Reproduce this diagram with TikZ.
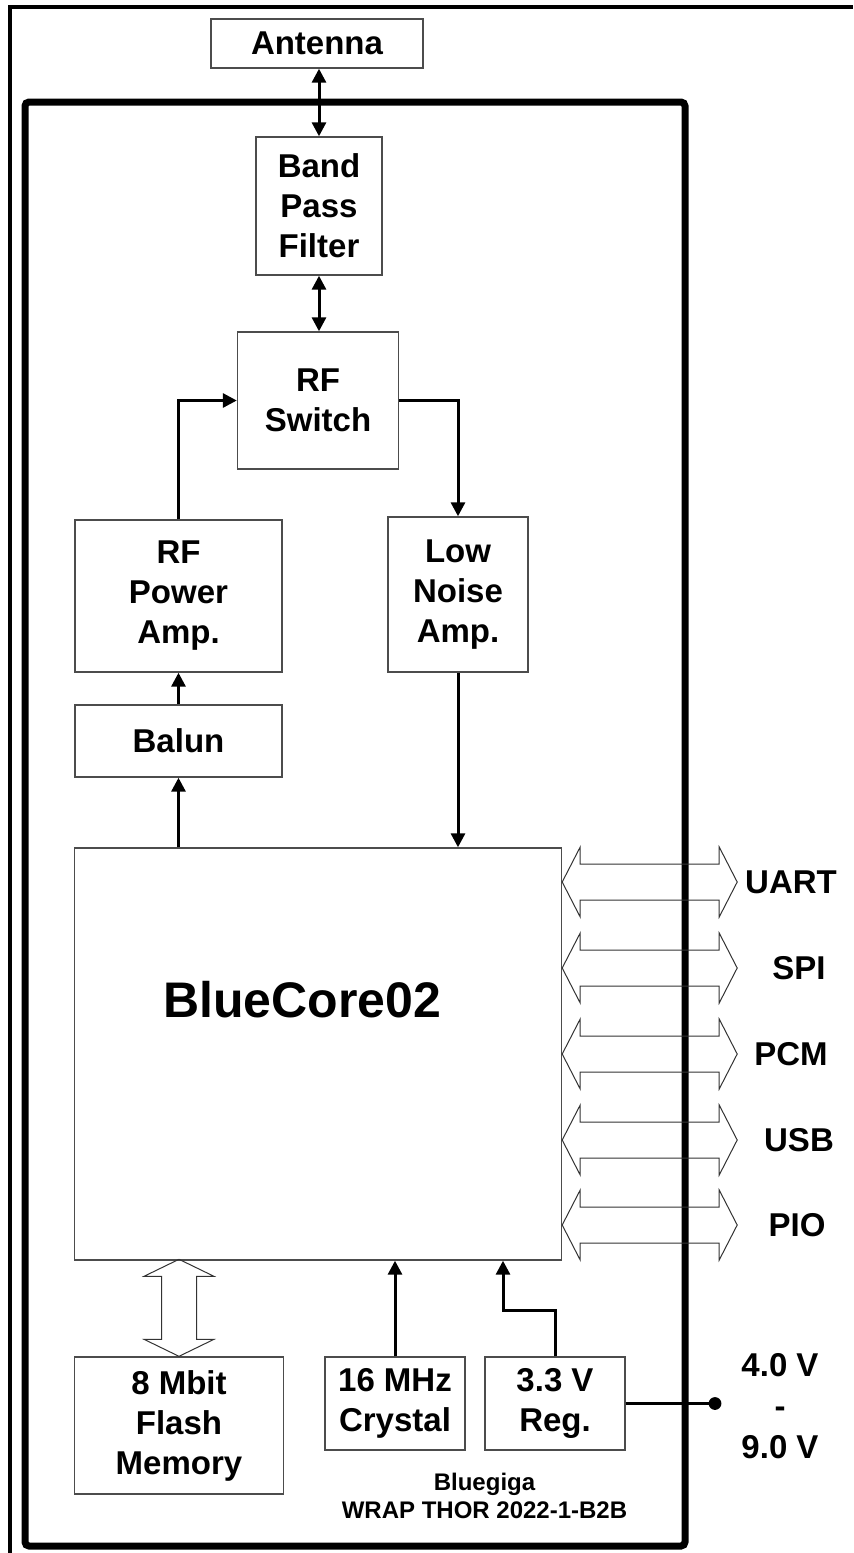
\documentclass[tikz,border=0pt]{standalone}
\usepackage{fontspec}
\setsansfont{Liberation Sans}
\usetikzlibrary{arrows.meta,calc,positioning}

\begin{document}
\begin{tikzpicture}[x=0.5pt, y=-0.5pt,
    every node/.append style={font=\sffamily\bfseries\fontsize{16.5}{20}\selectfont, align=center},
    block/.style={draw=black!70, line width=0.7pt, inner sep=0pt},
    wire/.style={line width=1.5pt},
    arr/.style={wire, -{Triangle[length=7pt,width=7pt]}},
    darr/.style={wire, {Triangle[length=7pt,width=7pt]}-{Triangle[length=7pt,width=7pt]}},
    bus/.style={draw=black!80, line width=0.5pt, line join=miter}]
    \useasboundingbox (0,0) rectangle (853,1553);

    % frames
    \draw[line width=2pt] (10,1553) -- (10,7) -- (853,7);
    \draw[line width=3.5pt, rounded corners=2pt] (25,102) rectangle (685,1546);

    % blocks
    \node[block, minimum width=106pt, minimum height=24.5pt] (ant) at (317,43.5) {Antenna};
    \node[block, minimum width=63pt, minimum height=69pt] (bpf) at (319,206) {Band\\Pass\\Filter};
    \node[block, minimum width=80.5pt, minimum height=68.5pt] (rfsw) at (318,400.5) {RF\\Switch};
    \node[block, minimum width=103.5pt, minimum height=76pt] (pa) at (178.5,596) {RF\\Power\\Amp.};
    \node[block, minimum width=70pt, minimum height=77.5pt] (lna) at (458,594.5) {Low\\Noise\\Amp.};
    \node[block, minimum width=103.5pt, minimum height=36pt] (balun) at (178.5,741) {Balun};
    \node[block, minimum width=243.5pt, minimum height=206pt] (bc) at (318,1054) {};
    \node[font=\sffamily\bfseries\fontsize{25}{30}\selectfont] (bclabel) at (302,1000) {BlueCore02};
    \node[block, minimum width=104.5pt, minimum height=68.5pt] (flash) at (179,1425.5) {8 Mbit\\Flash\\Memory};
    \node[block, minimum width=70pt, minimum height=46.5pt] (xtal) at (395,1403.5) {16 MHz\\Crystal};
    \node[block, minimum width=70pt, minimum height=46.5pt] (reg) at (555,1403.5) {3.3 V\\Reg.};
    \node[font=\sffamily\bfseries\fontsize{12}{14}\selectfont] (maker) at (484.5,1496) {Bluegiga\\WRAP THOR 2022-1-B2B};
    \node[font=\sffamily\bfseries\fontsize{16.5}{20.5}\selectfont] (volt) at (780,1406) {4.0 V\\-\\9.0 V};
    \coordinate (vin) at (715,1403.5);

    % signal path
    \draw[darr] (bpf.north) -- (bpf.north |- ant.south);
    \draw[darr] (bpf.south) -- (bpf.south |- rfsw.north);
    \draw[arr] (pa.north) |- (rfsw.west);
    \draw[arr] (rfsw.east) -| (lna.north);
    \draw[arr] (balun.north) -- (pa.south);
    \draw[arr] (bc.north -| balun) -- (balun.south);
    \draw[arr] (lna.south) -- (lna.south |- bc.north);
    \draw[arr] (xtal.north) -- (xtal.north |- bc.south);
    \draw[arr] (reg.north) -- ++(0,-46) -| ($(bc.south)+(185,0)$);
    \draw[wire] (reg.east) -- (vin);
    \fill (vin) circle[radius=3.2pt];

    % memory bus
    \draw[bus] (flash.north) -- ++(-35,-17) -- ++(17.5,0) -- ++(0,-63) -- ++(-17.5,0)
      -- ++(35,-17) -- ++(35,17) -- ++(-17.5,0) -- ++(0,63) -- ++(17.5,0) -- cycle;

    % interfaces
    \foreach \nm/\txt/\yy/\lx in {uart/UART/882/791, spi/SPI/968/799, pcm/PCM/1054/791, usb/USB/1140/799, pio/PIO/1225/797} {
      \coordinate (\nm y) at (0,\yy);
      \draw[bus] (bc.east |- \nm y) -- ++(18,-35) -- ++(0,17) -- ++(139,0) -- ++(0,-17)
        -- ++(18,35) -- ++(-18,35) -- ++(0,-17) -- ++(-139,0) -- ++(0,17) -- cycle;
      \node (\nm) at (\lx,\yy) {\txt};
    }
\end{tikzpicture}
\end{document}
